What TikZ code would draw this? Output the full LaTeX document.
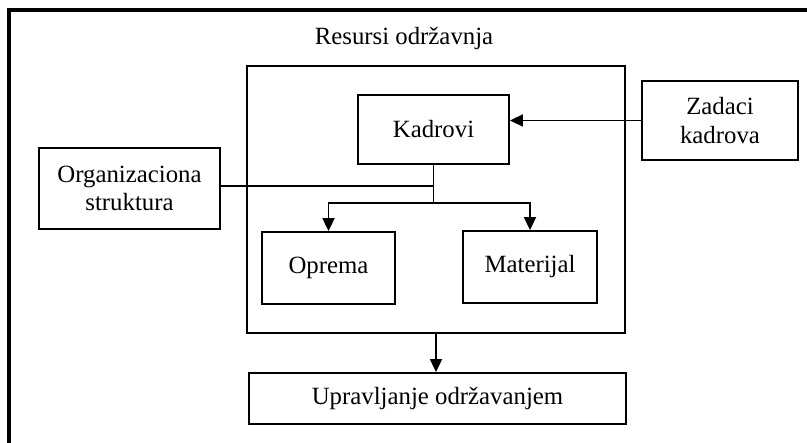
\documentclass[tikz,border=0pt]{standalone}
\usepackage{fontspec}
\setmainfont{Liberation Serif}
\usetikzlibrary{arrows.meta,positioning}

\begin{document}
\begin{tikzpicture}[x=0.5pt,y=-0.5pt,>={Triangle[length=6.5pt,width=6pt]},
    font=\fontsize{12.4}{14.2}\selectfont]
  \tikzstyle{blok}=[rectangle,draw=black,line width=0.9pt,inner sep=0pt,
              align=center]
  \tikzstyle{veza}=[line width=0.9pt]
  \useasboundingbox (0,0) rectangle (807,443);
  % okvir
  \draw[line width=1.6pt] (9,443) -- (9,10) -- (807,10);
  \node (naslov) at (404,39) {Resursi održavnja};
  \node [blok,minimum width=189pt,minimum height=133.5pt] (resursi) at (436,199.5) {};
  \node [blok,minimum width=75.5pt,minimum height=34.5pt] (kadrovi) at (433.5,129.5) {Kadrovi};
  \node [blok,minimum width=78pt,minimum height=39.5pt] (zadaci) at (720,120.5) {Zadaci\\kadrova};
  \node [blok,minimum width=90.5pt,minimum height=40.5pt] (org) at (129.5,188.5) {Organizaciona\\struktura};
  \node [blok,minimum width=66.5pt,minimum height=36pt] (oprema) at (328.5,268) {Oprema};
  \node [blok,minimum width=67pt,minimum height=36pt] (materijal) at (530,267) {Materijal};
  \node [blok,minimum width=188.5pt,minimum height=25.5pt] (upravljanje) at (437.5,398.5) {Upravljanje održavanjem};
  % veze
  \coordinate (grana) at (433.5,203);
  \draw [veza,->] (zadaci.west) -- (kadrovi.east |- zadaci.west);
  \draw [veza] (kadrovi.south) -- (grana);
  \draw [veza] (org.east |- 0,186) -- (kadrovi.south |- 0,186);
  \draw [veza,->] (grana) -| (oprema.north);
  \draw [veza,->] (grana) -| (materijal.north);
  \draw [veza,->] (resursi.south) -- (resursi.south |- upravljanje.north);
\end{tikzpicture}
\end{document}
